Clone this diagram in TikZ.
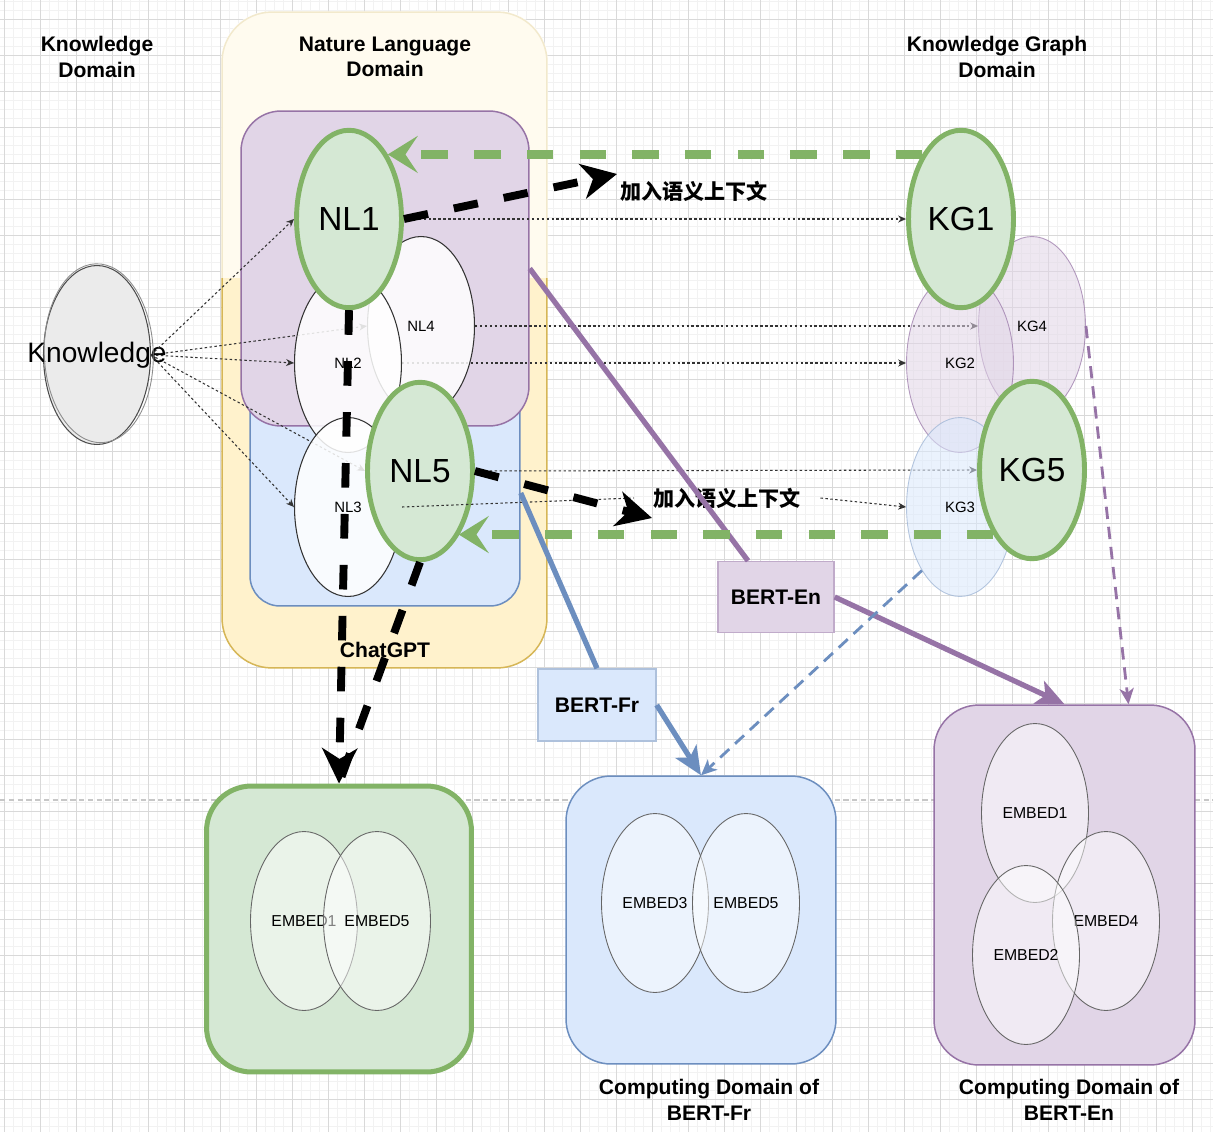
\documentclass[tikz,border=0pt]{standalone}
\usepackage{fontspec}
\setmainfont{Liberation Sans}
\newfontfamily\cjk{Noto Sans CJK SC}
\usetikzlibrary{arrows, arrows.meta, positioning, shapes.geometric}

\definecolor{grnD}{HTML}{82B366}
\definecolor{grnL}{HTML}{D5E8D4}
\definecolor{purD}{HTML}{9673A6}
\definecolor{purL}{HTML}{E1D5E7}
\definecolor{bluD}{HTML}{6C8EBF}
\definecolor{bluL}{HTML}{DAE8FC}
\definecolor{yelD}{HTML}{D6B656}
\definecolor{yelL}{HTML}{FFF2CC}

\pgfdeclarelayer{back}
\pgfdeclarelayer{mid}
\pgfsetlayers{back,mid,main}

\begin{document}
\begin{tikzpicture}[x=0.02cm, y=-0.02cm, >=Stealth]
          \tikzstyle{gridmin}=[draw=black!5, line width=0.5pt]
          \tikzstyle{gridmaj}=[draw=black!15, line width=0.5pt]
          \tikzstyle{headline}=[align=center, font=\fontsize{12}{14.5}\selectfont\bfseries]
          \tikzstyle{container}=[rectangle, rounded corners=0.8cm, line width=0.85pt]
          \tikzstyle{blob}=[ellipse, inner sep=0, minimum width=2.14cm, minimum height=3.58cm]
          \tikzstyle{nl}=[blob, draw=black!80, line width=0.6pt, fill=white, fill opacity=0.85, text opacity=1, font=\fontsize{8.5}{8.5}\selectfont]
          \tikzstyle{kg}=[blob, line width=0.5pt, fill opacity=0.55, draw opacity=0.7, text opacity=1, font=\fontsize{8.5}{8.5}\selectfont]
          \tikzstyle{hot}=[blob, draw=grnD, fill=grnL, line width=2.8pt, minimum width=2.1cm, minimum height=3.55cm, font=\fontsize{19}{19}\selectfont]
          \tikzstyle{emb}=[blob, draw=black!60, line width=0.5pt, fill=white, fill opacity=0.5, text opacity=1, font=\fontsize{9}{9}\selectfont]
          \tikzstyle{model}=[rectangle, line width=0.8pt, minimum width=2.32cm, minimum height=1.42cm, font=\fontsize{12}{14}\selectfont\bfseries]
          \tikzstyle{cjklab}=[font=\cjk\fontsize{12}{12}\selectfont\bfseries, inner xsep=11pt]
          \tikzstyle{link}=[draw=black!80, line width=0.6pt, dash pattern=on 1.4pt off 1.4pt, >={Stealth[length=4.5pt, width=4pt]}]
          \tikzstyle{thought}=[draw=black, line width=4.5pt, dash pattern=on 14pt off 15pt, >={Stealth[length=20pt, width=20pt, inset=6pt]}]
          \tikzstyle{feedback}=[draw=grnD, line width=5pt, dash pattern=on 15pt off 15pt, >={Stealth[length=17pt, width=21pt, inset=7pt]}]
          \tikzstyle{feed}=[line width=3pt, >={Stealth[length=16pt, width=14pt, inset=4pt]}]
          \tikzstyle{spill}=[line width=1.6pt, dash pattern=on 7pt off 4.5pt, >={Stealth[length=9pt, width=8pt, inset=2.5pt]}]

          \useasboundingbox (0,0) rectangle (1213,1132);

          \begin{pgfonlayer}{back}
            \fill[white] (0,0) rectangle (1213,1132);
            \foreach \x in {-5,4,...,1213} \draw[gridmin] (\x,0) -- (\x,1132);
            \foreach \y in {1,10,...,1132} \draw[gridmin] (0,\y) -- (1213,\y);
            \foreach \x in {4,40,...,1213} \draw[gridmaj] (\x,0) -- (\x,1132);
            \foreach \y in {19,55,...,1132} \draw[gridmaj] (0,\y) -- (1213,\y);
            \draw[black!22, line width=0.8pt, dash pattern=on 3pt off 2pt] (0,800) -- (1213,800);

            \node[container, draw=yelD, fill=yelL, rounded corners=1cm, minimum width=6.5cm, minimum height=13.12cm] (chat) at (384.5,340) {};
            \begin{scope}
              \clip[rounded corners=1cm] (221,11) rectangle (548,669);
              \fill[white, opacity=0.7] (215,5) rectangle (555,278);
            \end{scope}
            \node[container, draw=bluD, fill=bluL, rounded corners=0.6cm, minimum width=5.4cm, minimum height=4.52cm] (frbox) at (385,493) {};
            \node[container, draw=purD, fill=purL, minimum width=5.76cm, minimum height=6.3cm] (enbox) at (385,268.5) {};
          \end{pgfonlayer}

          \node[nl] (NL4) at (421,326) {NL4};
          \node[nl] (NL2) at (348,363) {NL2};
          \node[nl] (NL3) at (348,507) {NL3};
          \node[kg, draw=purD, fill=purL] (KG4) at (1032,326) {KG4};
          \node[kg, draw=purD, fill=purL] (KG2) at (960,363) {KG2};
          \node[kg, draw=bluD!70, fill=bluL] (KG3) at (960,507) {KG3};

          \node[blob, draw=black!70, fill=black!8, line width=0.6pt, label={[font=\fontsize{16}{16}\selectfont]center:Knowledge}] (knowledge) at (97,355) {};
          \draw[black!45, line width=0.5pt] ([xshift=1pt, yshift=1pt]knowledge.center) ellipse [x radius=1.09cm, y radius=1.79cm, rotate=2];

          \node[hot] (NL1) at (349,219) {NL1};
          \node[hot] (NL5) at (420,471) {NL5};
          \node[hot] (KG1) at (961,219) {KG1};
          \node[hot] (KG5) at (1032,470) {KG5};

          \node[cjklab] (lab1) at (694,191) {加入语义上下文};
          \node[cjklab] (lab2) at (727,498) {加入语义上下文};
          \coordinate (t1) at (617,174);
          \coordinate (t2) at (652,518);

          \begin{pgfonlayer}{mid}
            \path (knowledge.east) edge[link, ->] (NL4.west);
            \path (knowledge.east) edge[link, ->] (NL5.west);
            \path (NL4.east) edge[link, ->] (KG4.west);
            \path (NL2.east) edge[link, ->] (KG2.west);
            \path (NL5.east) edge[link, ->] (KG5.west);
          \end{pgfonlayer}

          \path (knowledge.east) edge[link, ->] (NL1.west);
          \path (knowledge.east) edge[link, ->] (NL2.west);
          \path (knowledge.east) edge[link, ->] (NL3.west);
          \path (NL1.east) edge[link, ->] (KG1.west);
          \path (NL3.east) edge[link] (lab2.west);
          \path (lab2.east) edge[link, ->] (KG3.west);

          \node[model, draw=purD!60, fill=purL] (BERTen) at (776,597) {BERT-En};
          \node[model, draw=bluD!55, fill=bluL, minimum width=2.36cm, minimum height=1.44cm] (BERTfr) at (597,705) {BERT-Fr};

          \node[container, draw=grnD, fill=grnL, line width=2.85pt, rounded corners=0.9cm, minimum width=5.3cm, minimum height=5.72cm] (gbox) at (339,929) {};
          \node[container, draw=bluD, fill=bluL, rounded corners=0.9cm, minimum width=5.4cm, minimum height=5.76cm] (frout) at (701,920) {};
          \node[container, draw=purD, fill=purL, rounded corners=0.9cm, minimum width=5.22cm, minimum height=7.2cm] (enout) at (1064.5,885) {};

          \node[emb] (ge1) at (304,921) {EMBED1};
          \node[emb] (ge5) at (377,921) {EMBED5};
          \node[emb] (fe3) at (655,903) {EMBED3};
          \node[emb] (fe5) at (746,903) {EMBED5};
          \node[emb] (ee1) at (1035,813) {EMBED1};
          \node[emb] (ee4) at (1106,921) {EMBED4};
          \node[emb] (ee2) at (1026,955) {EMBED2};

          \path (enbox.east) edge[feed, draw=purD] ([xshift=-0.56cm]BERTen.north);
          \path (BERTen.east) edge[feed, draw=purD, ->] (enout.north);
          \path (frbox.east) edge[feed, draw=bluD] (BERTfr.north);
          \path (BERTfr.east) edge[feed, draw=bluD, ->] (frout.north);
          \path (KG3.239) edge[spill, draw=bluD, ->] (frout.north);
          \path (KG4.east) edge[spill, draw=purD, ->] ([xshift=1.28cm]enout.north);

          \node[headline] (kdom) at (97,57) {Knowledge\\Domain};
          \node[headline] (nldom) at (385,57) {Nature Language\\Domain};
          \node[headline] (kgdom) at (997,57) {Knowledge Graph\\Domain};
          \node[headline] (chatlab) at (385,650) {ChatGPT};
          \node[headline] (frlab) at (709,1100) {Computing Domain of\\BERT-Fr};
          \node[headline] (enlab) at (1069,1100) {Computing Domain of\\BERT-En};

          \path (NL1.east) edge[thought, ->] (t1);
          \path (NL5.east) edge[thought, ->] (t2);
          \path (NL5.south) edge[thought] (gbox.north);
          \path (NL1.south) edge[thought, ->] (gbox.north);

          \path (KG1.121) edge[feedback, ->] (NL1.59 |- KG1.121);
          \path (KG5.239) edge[feedback, ->] (NL5.301 |- KG5.239);

        \end{tikzpicture}
\end{document}
